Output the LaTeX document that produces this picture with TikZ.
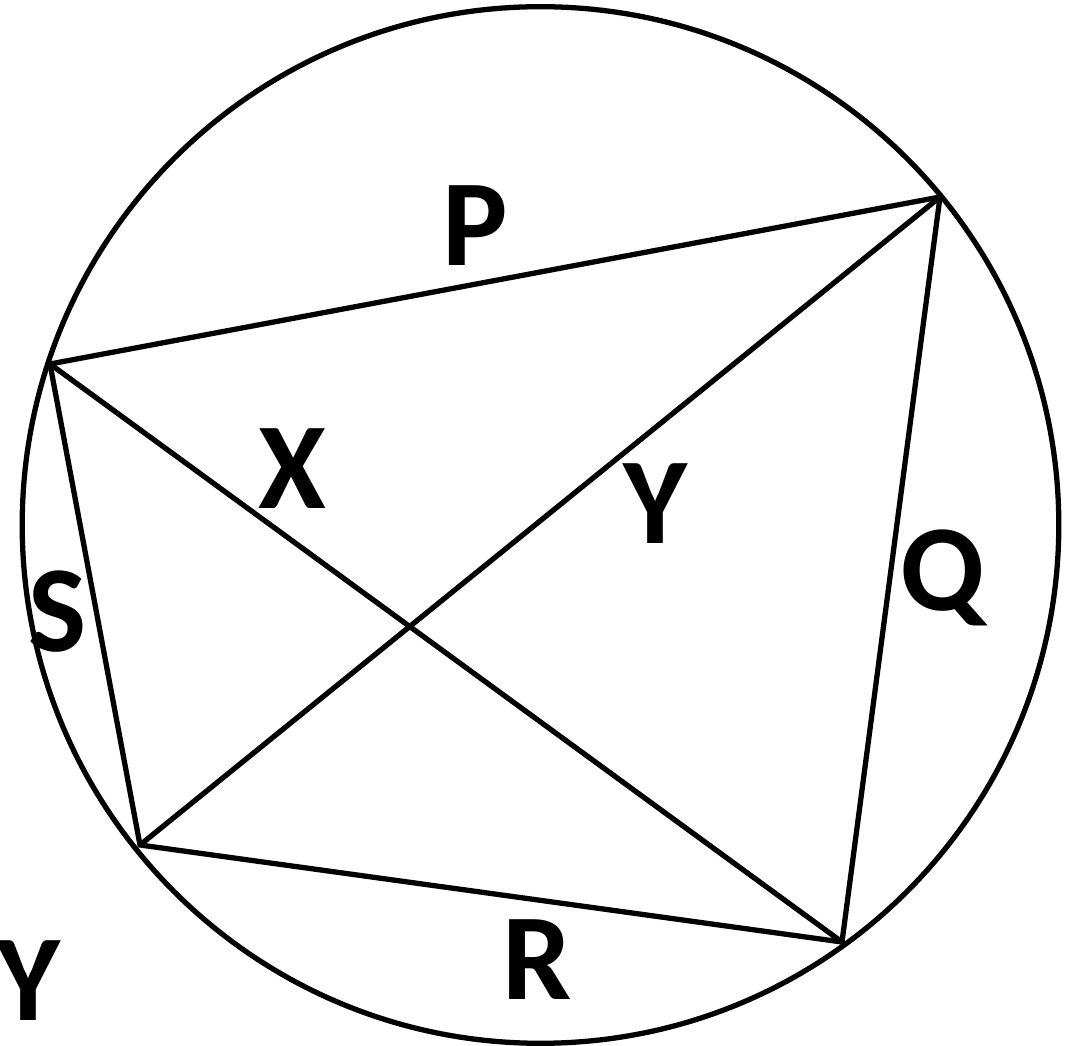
\documentclass[tikz,border=0pt]{standalone}
\usepackage{fontspec}
\setmainfont{Carlito}
\usepackage{tikz}
\usetikzlibrary{positioning}

\begin{document}
\begin{tikzpicture}[
 x=0.01cm, y=-0.01cm,
 edge/.style={line width=1.5pt, line join=miter},
 lbl/.style={font=\fontsize{35}{40}\selectfont\bfseries, inner sep=0pt}
 ]
 \useasboundingbox (0,0) rectangle (1069,1046);
 % Circle
 \node[draw, circle, line width=1.5pt, minimum size=10.36cm, inner sep=0pt] (circ) at (540.5,525) {};
 % Vertices on the circle
 \coordinate (a) at (50,364);
 \coordinate (b) at (940,197);
 \coordinate (c) at (842,942);
 \coordinate (d) at (140,845);
 % Sides and diagonals
 \draw[edge] (a) -- (b) -- (c) -- (d) -- cycle;
 \draw[edge] (a) -- (c);
 \draw[edge] (b) -- (d);
 % Labels
 \node[lbl] (p) at (475,226) {P};
 \node[lbl] (x) at (292,469) {X};
 \node[lbl] (y) at (655,504) {Y};
 \node[lbl] (q) at (943,578) {Q};
 \node[lbl] (s) at (58,612) {S};
 \node[lbl] (r) at (537,960) {R};
 \node[lbl] (y2) at (28,981) {Y};
\end{tikzpicture}
\end{document}
